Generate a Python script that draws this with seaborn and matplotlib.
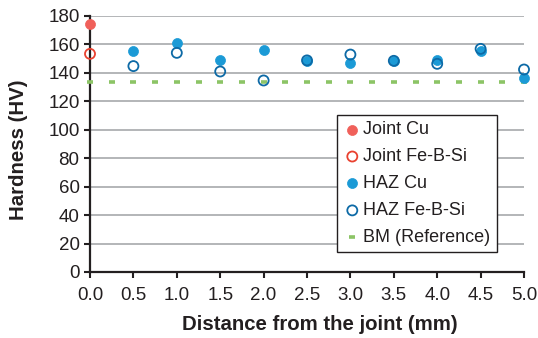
import numpy as np
import pandas as pd
import matplotlib
matplotlib.use('Agg')
import matplotlib.pyplot as plt
import seaborn as sb

# data
dist_joint = [0.0]
joint_cu = [174.2]
joint_febsi = [153.2]

dist_haz = [0.5, 1.0, 1.5, 2.0, 2.5, 3.0, 3.5, 4.0, 4.5, 5.0]
haz_cu = [155.3, 161.0, 149.2, 156.0, 148.3, 146.7, 148.1, 148.8, 155.5, 136.0]
haz_febsi = [144.6, 153.9, 140.8, 134.5, 148.6, 152.7, 148.3, 146.2, 156.7, 142.2]

dist_bm = [0.0, 0.25, 0.5, 0.75, 1.0, 1.25, 1.5, 1.75, 2.0, 2.25, 2.5, 2.75, 3.0,
           3.25, 3.5, 3.75, 4.0, 4.25, 4.5, 4.75, 5.0]
bm_ref = [133.7] * len(dist_bm)

x_ticks = [0.0, 0.5, 1.0, 1.5, 2.0, 2.5, 3.0, 3.5, 4.0, 4.5, 5.0]
y_ticks = [0, 20, 40, 60, 80, 100, 120, 140, 160, 180]

sb.set_theme(style='ticks')
plt.rcParams['font.family'] = ['Liberation Sans', 'DejaVu Sans']

fig = plt.figure(figsize=(5.38, 3.38), dpi=100)
ax = fig.add_axes([0.1673, 0.1953, 0.8067, 0.7583])

dark = '#231f20'
ms = 52

sb.scatterplot(x=dist_bm, y=bm_ref, marker='_', s=18, color='#8cc466',
               linewidth=2.6, label='BM (Reference)', ax=ax, clip_on=False, zorder=3)
sb.scatterplot(x=dist_joint, y=joint_cu, s=ms, color='#f0605a', edgecolor='#f0605a',
               linewidth=0.5, label='Joint Cu', ax=ax, clip_on=False, zorder=4)
sb.scatterplot(x=dist_joint, y=joint_febsi, s=ms, facecolor='none', edgecolor='#e9412f',
               linewidth=1.3, label='Joint Fe-B-Si', ax=ax, clip_on=False, zorder=4)
sb.scatterplot(x=dist_haz, y=haz_cu, s=ms, color='#1b9ad6', edgecolor='#1b9ad6',
               linewidth=0.5, label='HAZ Cu', ax=ax, clip_on=False, zorder=4)
sb.scatterplot(x=dist_haz, y=haz_febsi, s=ms, facecolor='none', edgecolor='#0d6aa6',
               linewidth=1.3, label='HAZ Fe-B-Si', ax=ax, clip_on=False, zorder=5)

ax.set_xlim(0, 5)
ax.set_ylim(0, 180)
ax.set_xticks(x_ticks)
ax.set_xticklabels(['{:.1f}'.format(v) for v in x_ticks])
ax.set_yticks(y_ticks)

# horizontal grid only
ax.grid(axis='y', color='#a7a9ac', linewidth=1.2)
ax.grid(axis='x', visible=False)

sb.despine(ax=ax)
for side in ['left', 'bottom']:
    ax.spines[side].set_color(dark)
    ax.spines[side].set_linewidth(1.6)

# tick marks pointing out of the axes
ax.xaxis.set_tick_params(which='major', direction='out', length=4.5, width=1.5,
                         color=dark, bottom=True, labelsize=13.5, labelcolor=dark, pad=6)
ax.yaxis.set_tick_params(which='major', direction='out', length=4.5, width=1.5,
                         color=dark, left=True, labelsize=13.5, labelcolor=dark, pad=3)

ax.set_xlabel('Distance from the joint (mm)', fontsize=14.7, fontweight='bold', color=dark)
ax.set_ylabel('Hardness (HV)', fontsize=14.7, fontweight='bold', color=dark)
ax.xaxis.set_label_coords(0.529, -0.168)
ax.yaxis.set_label_coords(-0.143, 0.476)

handles, labels = ax.get_legend_handles_labels()
order = ['Joint Cu', 'Joint Fe-B-Si', 'HAZ Cu', 'HAZ Fe-B-Si', 'BM (Reference)']
hmap = dict(zip(labels, handles))
leg = ax.legend([hmap[k] for k in order], order, loc='upper left',
                bbox_to_anchor=(0.569, 0.6125), borderaxespad=0, fontsize=13,
                frameon=True, fancybox=False, edgecolor=dark, framealpha=1,
                handletextpad=0.1, handlelength=1.0, labelspacing=0.55,
                borderpad=0.35, labelcolor=dark)
leg.get_frame().set_linewidth(1.0)

fig.savefig('out.png', dpi=100)
